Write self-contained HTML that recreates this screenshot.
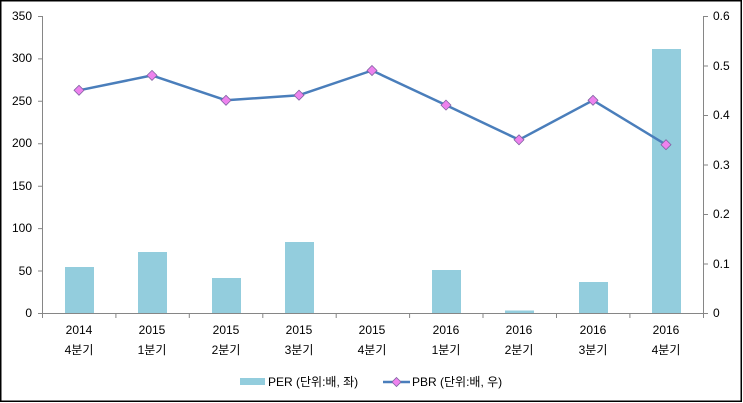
<!DOCTYPE html>
<html><head><meta charset="utf-8"><style>
html,body{margin:0;padding:0;background:#fff;}
svg{display:block;}
text{font-family:"Liberation Sans","Noto Sans CJK KR","NanumGothic",sans-serif;font-size:12px;fill:#000;}
</style></head><body>
<svg width="743" height="403" viewBox="0 0 743 403" xmlns="http://www.w3.org/2000/svg">
<rect x="0" y="0" width="743" height="403" fill="#fff"/>
<rect x="0.75" y="0.75" width="740.5" height="400.5" fill="none" stroke="#000" stroke-width="1.5"/>
<!-- axes -->
<g stroke="#868686" stroke-width="1" fill="none">
<line x1="42.5" y1="16" x2="42.5" y2="313"/>
<line x1="703.5" y1="16" x2="703.5" y2="313"/>
<line x1="42" y1="313.5" x2="704" y2="313.5"/>
<path d="M38 16.5H42M38 58.9H42M38 101.3H42M38 143.8H42M38 186.2H42M38 228.6H42M38 271H42M38 313.5H42"/>
<path d="M704 16.5H708M704 66H708M704 115.5H708M704 165H708M704 214.5H708M704 264H708M704 313.5H708"/>
<path d="M42.5 313V318M115.9 313V318M189.3 313V318M262.8 313V318M336.2 313V318M409.6 313V318M483 313V318M556.5 313V318M629.9 313V318M703.5 313V318"/>
</g>
<g text-anchor="end">
<text x="32" y="20">350</text><text x="32" y="62">300</text><text x="32" y="105">250</text><text x="32" y="147">200</text><text x="32" y="190">150</text><text x="32" y="232">100</text><text x="32" y="275">50</text><text x="32" y="317">0</text>
</g>
<g>
<text x="713" y="20">0.6</text><text x="713" y="70">0.5</text><text x="713" y="119">0.4</text><text x="713" y="169">0.3</text><text x="713" y="218">0.2</text><text x="713" y="268">0.1</text><text x="713" y="317">0</text>
</g>
<!-- bars -->
<g fill="#93cddd">
<rect x="65" y="267" width="29" height="46"/>
<rect x="138" y="252" width="29" height="61"/>
<rect x="212" y="278" width="29" height="35"/>
<rect x="285" y="242" width="29" height="71"/>
<rect x="432" y="270" width="29" height="43"/>
<rect x="505" y="310.5" width="29" height="2.5"/>
<rect x="579" y="282" width="29" height="31"/>
<rect x="652" y="49" width="29" height="264"/>
</g>
<!-- line -->
<polyline fill="none" stroke="#4a7ebb" stroke-width="2.5" stroke-linejoin="round" points="79,90.3 152,75.4 226,100.3 299,95.2 372,70.5 446,105.1 519,139.8 593,100.3 666,144.7"/>
<g fill="#ee82ee" stroke="#8064a2" stroke-width="0.8">
<path d="M79 85.3l5 5-5 5-5-5z"/><path d="M152 70.4l5 5-5 5-5-5z"/><path d="M226 95.3l5 5-5 5-5-5z"/><path d="M299 90.2l5 5-5 5-5-5z"/><path d="M372 65.5l5 5-5 5-5-5z"/><path d="M446 100.1l5 5-5 5-5-5z"/><path d="M519 134.8l5 5-5 5-5-5z"/><path d="M593 95.3l5 5-5 5-5-5z"/><path d="M666 139.7l5 5-5 5-5-5z"/>
</g>
<!-- category labels -->
<g text-anchor="middle">
<text x="79" y="334">2014</text><text x="79" y="354">4분기</text>
<text x="152" y="334">2015</text><text x="152" y="354">1분기</text>
<text x="226" y="334">2015</text><text x="226" y="354">2분기</text>
<text x="299" y="334">2015</text><text x="299" y="354">3분기</text>
<text x="372" y="334">2015</text><text x="372" y="354">4분기</text>
<text x="446" y="334">2016</text><text x="446" y="354">1분기</text>
<text x="519" y="334">2016</text><text x="519" y="354">2분기</text>
<text x="593" y="334">2016</text><text x="593" y="354">3분기</text>
<text x="666" y="334">2016</text><text x="666" y="354">4분기</text>
</g>
<!-- legend -->
<rect x="240" y="378" width="25" height="7" fill="#93cddd"/>
<text x="268" y="386">PER (단위:배, 좌)</text>
<line x1="383" y1="382" x2="410" y2="382" stroke="#4a7ebb" stroke-width="2.5"/>
<path d="M396.5 377.5l4.5 4.5-4.5 4.5-4.5-4.5z" fill="#ee82ee" stroke="#8064a2" stroke-width="0.8"/>
<text x="412" y="386">PBR (단위:배, 우)</text>
</svg>
</body></html>
